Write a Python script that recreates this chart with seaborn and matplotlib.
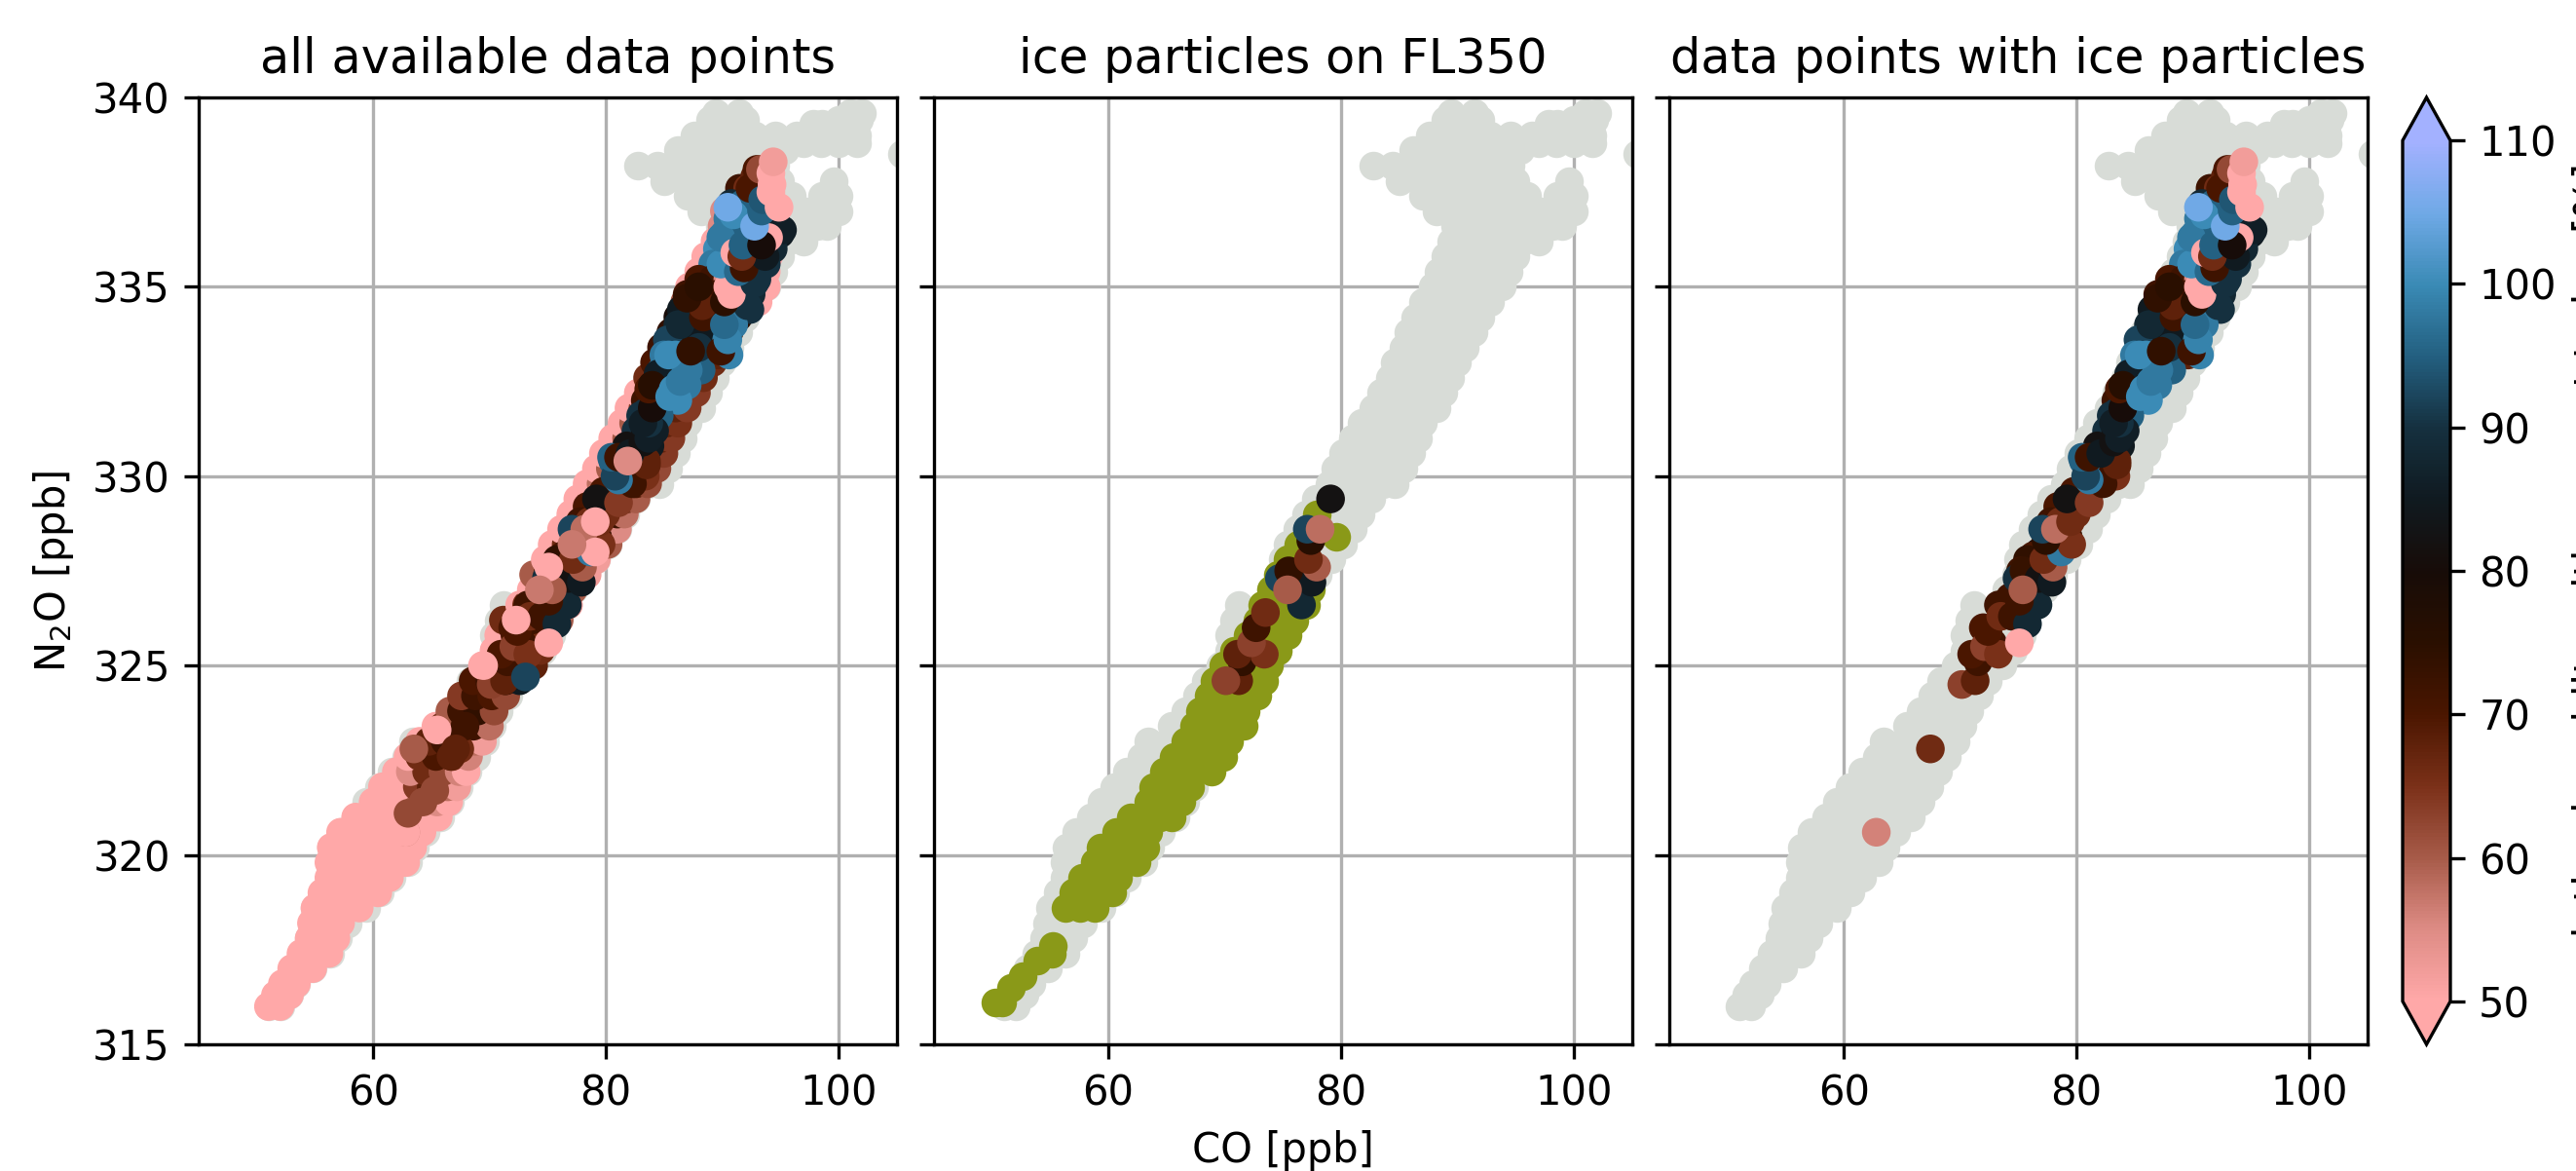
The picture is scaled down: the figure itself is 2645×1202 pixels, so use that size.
import matplotlib
matplotlib.use("Agg")
import matplotlib.pyplot as plt
from matplotlib.colors import LinearSegmentedColormap, Normalize
from matplotlib.cm import ScalarMappable
import pandas as pd
import seaborn as sns

sns.set_theme(style="ticks", rc={"axes.grid": True})
plt.rcParams.update({
    "font.family": "DejaVu Sans", "font.size": 10, "axes.titlesize": 11.85,
    "axes.labelsize": 10, "xtick.labelsize": 10, "ytick.labelsize": 10,
    "axes.edgecolor": "black", "axes.linewidth": 0.8, "grid.color": "#b0b0b0",
    "grid.linewidth": 0.8, "xtick.color": "black", "ytick.color": "black",
    "text.color": "black", "axes.labelcolor": "black",
    "xtick.direction": "out", "ytick.direction": "out",
    "xtick.major.size": 3.5, "ytick.major.size": 3.5,
    "xtick.major.width": 0.8, "ytick.major.width": 0.8,
})

panel_titles = ["all available data points", "ice particles on FL350",
                "data points with ice particles"]
x_ticks = [60, 80, 100]
y_ticks = [315, 320, 325, 330, 335, 340]
cbar_ticks = [50, 60, 70, 80, 90, 100, 110]

# every measurement: N2O row, CO values in that row
grey_rows = [
    (316.0, [51.0, 52.0]), (316.3, [51.6, 52.8]), (316.6, [52.2, 53.4]),
    (317.0, [53.0, 54.0, 54.8]), (317.4, [53.8, 55.0, 56.3]), (317.8, [54.5, 55.8, 57.0]),
    (318.2, [54.7, 56.2, 57.8]), (318.6, [55.0, 56.6, 58.2, 59.4]),
    (319.0, [55.6, 57.4, 59.2, 60.6]), (319.4, [56.2, 58.0, 59.8, 61.6]),
    (319.8, [56.2, 57.6, 59.4, 61.2, 63.0]), (320.2, [56.4, 58.2, 60.0, 62.0, 63.6]),
    (320.6, [57.2, 59.0, 61.0, 62.8, 64.5]), (321.0, [58.5, 60.2, 62.0, 64.0, 65.8]),
    (321.4, [59.4, 61.2, 63.0, 65.0, 66.6]), (321.8, [60.5, 62.2, 64.2, 66.0, 67.4]),
    (322.2, [61.6, 63.4, 65.2, 67.0, 68.1]), (322.6, [62.8, 63.5, 64.6, 66.2, 68.0, 68.9]),
    (323.0, [63.4, 65.2, 67.0, 68.8, 69.6]), (323.4, [65.4, 66.4, 68.0, 69.8, 70.2]),
    (323.8, [66.6, 67.6, 69.2, 70.8]), (324.2, [67.6, 68.8, 70.4, 71.6]),
    (324.6, [68.4, 70.0, 71.6, 72.4]), (325.0, [69.6, 71.0, 72.6, 73.6]),
    (325.4, [70.4, 72.0, 73.6, 74.6]), (325.8, [70.4, 71.6, 73.0, 74.6, 75.3]),
    (326.2, [70.8, 72.6, 74.0, 75.6]), (326.6, [71.2, 73.4, 75.0, 76.6]),
    (327.0, [74.0, 75.6, 77.2]), (327.4, [74.8, 76.4, 78.0]),
    (327.8, [75.0, 76.2, 77.8, 79.2]), (328.2, [75.4, 77.0, 78.6, 80.2]),
    (328.6, [76.2, 77.8, 79.4, 81.0]), (329.0, [77.0, 78.6, 80.2, 81.7]),
    (329.4, [77.8, 79.4, 81.0, 82.6]), (329.8, [79.0, 80.4, 82.0, 83.6, 84.6]),
    (330.2, [79.5, 81.0, 82.8, 84.4, 85.4]), (330.6, [80.2, 82.0, 83.6, 85.2, 86.0]),
    (331.0, [81.0, 82.8, 84.4, 86.0, 86.6]), (331.4, [81.8, 83.6, 85.2, 87.0]),
    (331.8, [82.8, 84.4, 86.0, 87.6, 88.2]), (332.2, [83.4, 85.2, 87.0, 88.8]),
    (332.6, [84.2, 86.0, 87.8, 89.4]), (333.0, [84.6, 86.8, 88.6, 90.0]),
    (333.4, [85.4, 87.2, 89.0, 90.6]), (333.8, [85.8, 87.8, 89.8, 91.4]),
    (334.2, [86.4, 88.4, 90.4, 92.0]), (334.6, [87.0, 89.0, 91.0, 92.8]),
    (335.0, [87.9, 89.8, 91.8, 93.8]), (335.4, [88.4, 90.4, 92.4, 94.4]),
    (335.8, [89.0, 91.0, 93.0, 95.0]), (336.2, [89.5, 91.6, 93.6, 95.6, 97.0]),
    (336.6, [89.8, 91.2, 92.8, 94.6, 96.4, 97.8, 98.2, 99.0]),
    (337.0, [88.2, 90.0, 91.8, 93.6, 95.4, 97.2, 98.6, 99.4, 100.0]),
    (337.4, [87.0, 88.8, 90.6, 92.4, 94.2, 96.0, 98.6, 99.4, 100.0]),
    (337.8, [85.0, 86.8, 88.6, 90.4, 92.2, 94.0, 95.0, 99.6]),
    (338.2, [82.8, 84.4, 86.0, 87.6, 89.4, 91.2, 93.0, 94.6]),
    (338.6, [86.2, 88.2, 90.0, 91.8, 93.6, 95.4]),
    (338.8, [97.0, 98.5, 100.0, 101.6]),
    (339.0, [87.6, 89.2, 91.0, 92.8, 94.6, 96.4, 98.0, 99.8, 101.6]),
    (339.3, [97.8, 98.6]), (339.4, [89.0, 90.2, 92.0, 100.0, 101.8]),
    (339.6, [89.5, 91.5, 101.0, 102.0]), (338.5, [105.5]),
]

# ice particles seen on FL350: N2O row, CO values in that row
olive_rows = [
    (316.1, [50.3, 50.9]), (316.5, [51.6]), (316.8, [52.6]), (317.2, [53.9]),
    (317.4, [55.1]), (317.6, [55.2]), (318.6, [56.3, 57.6, 58.8]),
    (319.0, [57.0, 58.4, 59.8, 60.3]), (319.4, [57.7, 59.0, 60.4, 60.8]),
    (319.8, [58.8, 60.2, 61.6, 62.4]), (320.2, [59.3, 60.7, 62.2, 63.2]),
    (320.6, [60.7, 62.0, 63.4]), (321.0, [61.9, 63.0, 64.4, 65.4]),
    (321.4, [63.4, 64.6, 66.0, 66.3]), (321.8, [63.8, 65.2, 66.6, 67.0]),
    (322.2, [64.8, 66.0, 67.4, 68.9]), (322.6, [65.6, 66.8, 68.2, 69.9]),
    (323.0, [66.6, 67.8, 69.2, 70.4]), (323.4, [67.4, 68.6, 70.0, 71.6]),
    (323.8, [67.9, 69.2, 70.6, 71.8]), (324.2, [68.6, 70.0, 71.4, 72.8]),
    (324.6, [69.1, 70.4, 71.8, 73.4]), (325.0, [69.9, 71.2, 72.6, 73.8]),
    (325.4, [70.8, 72.0, 73.4, 74.6]), (325.8, [72.0, 73.2, 74.4, 75.4]),
    (326.2, [72.8, 74.0, 75.4, 76.0]), (326.6, [73.2, 74.6, 75.8, 77.0]),
    (327.0, [74.0, 75.4, 76.6, 77.4]), (327.4, [74.6, 76.0, 77.0]),
    (327.8, [75.4, 76.6, 77.0]), (328.2, [76.3, 77.0]), (328.4, [79.6]), (329.0, [77.9]),
]

# humidity samples inside that FL350 leg, back to front
leg_co = [71.2, 71.5, 73.4, 71.1, 72.3, 72.7, 73.5, 76.6, 74.7, 77.5, 75.5,
          77.9, 77.2, 77.4, 77.1, 78.2, 75.4, 79.1, 70.1]
leg_n2o = [324.6, 325.1, 325.3, 325.3, 325.6, 326.0, 326.4, 326.6, 327.3, 327.2, 327.5,
           327.6, 327.8, 328.3, 328.6, 328.6, 327.0, 329.4, 324.6]
leg_rh = [68, 74, 65, 68, 63, 72, 66, 88, 92, 85, 74,
          60, 66, 76, 92, 58, 60, 82, 63]

# data points with ice particles that lie underneath: N2O row, (CO, RH) in that row
ice_under_rows = [
    (337.6, [(91.5, 72), (92.2, 66), (93.0, 72)]),
    (337.2, [(90.8, 88), (91.8, 95), (92.8, 95), (93.6, 95)]),
    (336.8, [(90.5, 98), (91.4, 100), (92.6, 98), (93.5, 92), (94.5, 85)]),
    (336.4, [(90.2, 98), (91.0, 100), (92.0, 95), (93.0, 90), (94.2, 88), (95.0, 85)]),
    (336.0, [(89.6, 100), (90.6, 98), (91.8, 85), (93.0, 72), (94.4, 88)]),
    (335.6, [(89.2, 98), (90.4, 98), (91.5, 60), (92.6, 72), (93.8, 90)]),
    (335.2, [(88.0, 70), (89.2, 72), (90.5, 55), (91.8, 72), (93.0, 90)]),
    (334.8, [(87.0, 72), (88.3, 70), (89.5, 72), (91.0, 74), (92.5, 88)]),
    (334.4, [(86.5, 85), (87.6, 72), (88.8, 74), (90.2, 90), (91.5, 96), (92.4, 90)]),
    (334.0, [(86.2, 88), (87.4, 88), (88.6, 92), (90.0, 96), (91.0, 98)]),
    (333.6, [(85.3, 92), (86.5, 92), (87.8, 85), (89.0, 85), (90.4, 99)]),
    (333.2, [(85.0, 98), (86.0, 100), (87.2, 74), (88.4, 90), (89.6, 68), (90.6, 99)]),
    (332.8, [(84.8, 98), (85.8, 98), (87.0, 98), (88.2, 95)]),
    (332.4, [(84.0, 76), (85.0, 98), (86.0, 100), (87.0, 98)]),
    (332.0, [(83.4, 72), (84.2, 70), (85.2, 100), (86.2, 100)]),
    (331.6, [(83.0, 90), (83.8, 88), (84.6, 95)]),
    (331.2, [(82.6, 90), (83.4, 82), (84.2, 86)]),
    (330.8, [(81.8, 82), (82.8, 82), (83.8, 85)]),
    (330.4, [(80.6, 95), (81.6, 86), (82.6, 85), (83.5, 68)]),
    (330.0, [(81.0, 72), (82.0, 98), (83.0, 72), (83.4, 65)]),
    (329.6, [(79.8, 70)]), (329.2, [(78.4, 70)]), (329.0, [(80.0, 66)]),
    (328.8, [(77.8, 72), (78.6, 66)]), (328.4, [(79.3, 72)]),
    (328.1, [(77.8, 72)]), (328.0, [(76.8, 80)]), (327.9, [(76.3, 70)]),
    (327.8, [(75.8, 74)]), (327.0, [(76.1, 85)]), (326.8, [(74.3, 72)]),
    (326.6, [(73.3, 72)]), (326.0, [(72.0, 70)]), (325.6, [(72.8, 72)]),
]

# data points with ice particles, back to front
ice_co = [70.15, 71.3, 71.55, 71.0, 72.1, 73.3, 72.4, 73.5, 74.5, 75.8, 76.7, 75.1,
          75.2, 74.9, 75.5, 76.8, 77.9, 78.0, 77.2, 78.7, 79.6, 77.4, 77.1, 78.2,
          79.5, 62.8, 67.45, 75.1, 75.4, 79.2,
          81.1, 82.3, 81.1, 80.8, 83.5, 80.5, 81.1, 82.1, 83.2, 83.7, 83.7, 83.5,
          83.2, 84.0, 83.7, 84.5, 84.0, 85.5, 85.8, 86.4, 87.1, 85.4, 88.0, 89.9,
          90.5, 87.3, 86.4, 88.4, 90.2, 92.2, 88.3, 90.2, 87.0, 88.0, 90.5, 90.8,
          92.8, 94.3, 95.2, 89.9, 91.4, 91.9, 89.9, 91.0, 90.5, 93.7, 91.1, 91.7,
          91.8, 94.0, 93.4, 92.8, 93.4, 93.1, 92.8, 93.0, 92.4, 93.3,
          93.5, 94.9, 94.2, 94.3, 94.2, 94.4]
ice_n2o = [324.5, 324.6, 325.1, 325.3, 325.5, 325.3, 325.9, 326.3, 326.3, 326.1, 326.6, 326.7,
           327.5, 327.3, 327.5, 327.3, 327.2, 327.6, 327.8, 328.0, 328.2, 328.3, 328.6, 328.6,
           328.8, 320.6, 322.8, 325.6, 327.0, 329.4,
           329.3, 329.8, 329.9, 330.0, 330.3, 330.5, 330.5, 330.6, 330.9, 331.0, 331.4, 331.7,
           331.4, 331.8, 332.3, 332.7, 332.4, 332.1, 332.3, 332.5, 332.8, 333.2, 333.4, 333.3,
           333.6, 333.3, 334.0, 334.2, 334.0, 334.5, 334.5, 334.6, 334.7, 335.0, 335.0, 334.8,
           335.1, 336.0, 336.5, 335.6, 335.4, 335.5, 336.3, 336.9, 337.1, 335.8, 335.9, 335.8,
           336.1, 336.3, 336.1, 336.6, 337.0, 337.3, 337.9, 338.1, 337.6, 338.1,
           337.3, 337.1, 337.5, 337.7, 338.0, 338.3]
ice_rh = [63, 68, 72, 70, 63, 65, 70, 66, 72, 88, 88, 72,
          72, 90, 73, 82, 85, 60, 66, 98, 65, 75, 92, 58,
          66, 56, 66, 50, 60, 82,
          64, 72, 98, 92, 68, 95, 72, 85, 82, 86, 90, 90,
          86, 80, 70, 86, 76, 100, 100, 98, 98, 100, 90, 72,
          99, 74, 88, 72, 96, 90, 68, 75, 74, 75, 50, 50,
          90, 88, 86, 100, 96, 72, 98, 100, 105, 85, 50, 66,
          95, 50, 80, 105, 95, 95, 68, 70, 70, 62,
          94, 50, 50, 50, 50, 52]

# remaining humidity samples: N2O row, (CO, RH) in that row
other_rows = [
    (316.0, [(51.0, 50), (52.0, 50)]), (316.3, [(51.6, 50), (52.8, 50)]),
    (316.6, [(52.2, 50), (53.4, 50)]), (317.0, [(53.0, 50), (54.0, 50), (54.8, 50)]),
    (317.4, [(53.8, 50), (55.0, 50), (56.2, 50)]), (317.8, [(54.5, 50), (55.8, 50), (56.8, 50)]),
    (318.2, [(54.7, 50), (56.0, 50), (57.2, 50)]),
    (318.6, [(55.0, 50), (56.4, 50), (57.8, 50), (58.8, 50)]),
    (319.0, [(55.6, 50), (57.4, 50), (59.0, 50), (60.4, 50)]),
    (319.4, [(56.2, 50), (58.0, 50), (59.8, 50), (61.4, 50)]),
    (319.8, [(56.2, 50), (57.6, 50), (59.4, 50), (61.2, 50), (62.8, 50)]),
    (320.2, [(56.4, 50), (58.2, 50), (60.0, 50), (62.0, 50), (63.4, 50)]),
    (320.6, [(57.2, 50), (59.0, 50), (61.0, 50), (62.8, 50), (64.2, 50)]),
    (321.0, [(58.5, 50), (60.2, 50), (62.0, 50), (64.0, 50), (65.6, 50)]),
    (321.4, [(60.0, 50), (61.4, 50), (62.6, 50), (64.0, 60), (65.5, 55), (66.5, 50)]),
    (321.8, [(60.8, 50), (62.2, 50), (63.8, 64), (65.0, 68), (66.4, 58), (67.2, 52)]),
    (322.2, [(62.0, 50), (63.2, 55), (64.6, 66), (66.0, 62), (67.4, 56), (68.0, 50)]),
    (322.6, [(63.0, 50), (64.0, 66), (65.4, 70), (66.8, 64), (68.2, 56)]),
    (323.0, [(64.0, 50), (64.8, 68), (66.2, 72), (67.6, 68), (68.8, 58), (69.4, 52)]),
    (323.4, [(65.4, 50), (66.0, 66), (67.2, 72), (68.6, 72), (70.0, 58)]),
    (323.8, [(66.6, 60), (67.6, 72), (69.0, 74), (70.4, 62)]),
    (324.2, [(67.6, 64), (68.8, 72), (70.2, 70), (71.4, 62)]),
    (324.6, [(68.6, 70), (70.0, 72), (71.4, 75), (72.6, 85)]),
    (325.0, [(69.4, 50), (70.6, 72), (72.0, 78), (73.2, 92), (73.8, 68)]),
    (325.4, [(70.4, 50), (71.6, 72), (73.0, 90), (74.4, 66)]),
    (325.8, [(70.8, 50), (72.2, 70), (73.6, 70), (75.0, 66)]),
    (326.2, [(71.2, 66), (72.3, 50), (73.6, 72), (75.0, 70), (76.0, 60)]),
    (326.6, [(72.6, 50), (73.2, 65), (74.6, 72), (75.8, 80), (76.8, 52)]),
    (327.0, [(73.6, 50), (74.6, 60), (76.0, 72), (77.2, 60)]),
    (327.4, [(73.8, 60), (75.0, 70), (76.2, 75), (77.6, 70), (78.4, 52)]),
    (327.8, [(74.8, 50), (76.0, 66), (77.2, 72), (78.6, 70), (79.2, 52)]),
    (328.2, [(75.4, 50), (76.6, 66), (77.8, 72), (79.2, 72), (80.2, 60)]),
    (328.6, [(76.2, 50), (77.4, 70), (78.8, 74), (80.4, 72), (81.0, 55)]),
    (329.0, [(77.0, 50), (78.2, 66), (79.6, 72), (81.0, 72), (81.6, 58)]),
    (329.4, [(77.6, 50), (78.8, 60), (80.2, 74), (81.8, 68), (82.6, 60)]),
    (329.8, [(78.4, 50), (79.6, 58), (81.0, 74), (82.6, 70), (83.6, 62)]),
    (330.2, [(79.2, 50), (80.4, 60), (82.0, 78), (83.6, 68), (84.4, 62)]),
    (330.6, [(79.8, 50), (81.0, 58), (82.4, 82), (84.0, 68), (85.0, 64)]),
    (331.0, [(80.6, 50), (81.8, 60), (83.2, 82), (84.8, 68), (85.6, 64)]),
    (331.4, [(81.4, 50), (82.4, 60), (83.8, 75), (85.2, 68), (86.2, 65)]),
    (331.8, [(82.0, 50), (83.2, 64), (84.6, 70), (86.0, 68), (87.0, 64)]),
    (332.2, [(82.8, 50), (84.0, 70), (85.4, 68), (86.8, 66), (87.8, 64)]),
    (332.6, [(83.6, 66), (84.8, 72), (86.2, 68), (87.6, 66), (88.4, 66)]),
    (333.0, [(84.2, 70), (85.4, 72), (86.8, 70), (88.2, 68), (89.2, 66)]),
    (333.4, [(84.8, 72), (86.0, 80), (87.4, 72), (88.8, 72), (90.0, 72)]),
    (333.8, [(85.6, 74), (86.8, 85), (88.2, 88), (89.6, 76), (90.6, 74)]),
    (334.2, [(86.2, 80), (87.6, 88), (89.0, 90), (90.4, 76), (91.4, 76)]),
    (334.6, [(86.8, 60), (88.0, 88), (89.6, 92), (91.0, 85), (92.4, 72), (93.1, 50)]),
    (335.0, [(87.2, 50), (88.6, 70), (90.0, 90), (91.6, 85), (93.2, 62), (93.8, 50)]),
    (335.4, [(88.0, 50), (89.4, 80), (91.0, 90), (92.6, 85), (93.8, 50)]),
    (335.8, [(88.6, 50), (90.0, 95), (92.0, 85), (93.4, 75), (94.0, 50)]),
    (336.2, [(89.4, 50), (91.0, 95), (92.6, 85), (94.0, 75)]),
    (336.6, [(90.0, 55), (92.0, 85), (93.6, 72), (94.6, 70)]),
    (337.0, [(90.2, 55), (91.6, 90), (93.2, 85)]),
]
# samples lying on top of the others in the first panel
top_co = [62.8, 62.2, 63.0, 64.3, 66.7, 67.9, 65.5, 69.5, 72.3, 75.1, 79.1, 65.3, 67.1,
          74.3, 77.1, 79.1, 81.9, 73.1, 63.5]
top_n2o = [320.6, 320.6, 321.1, 321.4, 322.6, 323.4, 323.3, 325.0, 326.2, 327.6, 328.0, 321.7,
           322.8, 327.0, 328.2, 328.8, 330.4, 324.7, 322.8]
top_rh = [50, 50, 62, 62, 68, 72, 50, 50, 50, 50, 50, 62, 68,
          57, 57, 50, 55, 92, 60]

rh_stops = [(0.0, "#ffa8a8"), (1/12, "#dd8b84"), (2/12, "#a65a48"), (3/12, "#7a3018"),
            (4/12, "#4a1600"), (5/12, "#2a0f00"), (6/12, "#170c08"), (7/12, "#101a20"),
            (8/12, "#15303f"), (9/12, "#235f80"), (10/12, "#3a8ab5"), (11/12, "#6fa9e6"),
            (1.0, "#a3b1ff")]
rh_cmap = LinearSegmentedColormap.from_list("rh", rh_stops, N=256)
rh_norm = Normalize(50, 110)
GREY = "#d8dcd7"
OLIVE = "#8a9918"

grey = pd.DataFrame([(x, y) for y, xs in grey_rows for x in xs], columns=["co", "n2o"])
olive = pd.DataFrame([(x, y) for y, xs in olive_rows for x in xs], columns=["co", "n2o"])
other = pd.DataFrame([(x, y, v) for y, row in other_rows for x, v in row],
                     columns=["co", "n2o", "rh"])
under = pd.DataFrame([(x, y, v) for y, row in ice_under_rows for x, v in row],
                     columns=["co", "n2o", "rh"])
ice = pd.concat([under, pd.DataFrame({"co": ice_co, "n2o": ice_n2o, "rh": ice_rh})],
                ignore_index=True)
top = pd.DataFrame({"co": top_co, "n2o": top_n2o, "rh": top_rh})
leg = pd.DataFrame({"co": leg_co, "n2o": leg_n2o, "rh": leg_rh})
all_rh = pd.concat([other, ice, top], ignore_index=True)

W, H = 2645, 1202
fig = plt.figure(figsize=(W / 300, H / 300), dpi=300, facecolor="white")


def box(left, right, top_px, bottom):
    return [left / W, 1 - bottom / H, (right - left) / W, (bottom - top_px) / H]


lefts = [204, 959, 1714]
axes = [fig.add_axes(box(l, l + 716.5, 100, 1072)) for l in lefts]
cax = fig.add_axes(box(2467, 2516, 100, 1072))

scatter_kw = dict(x="co", y="n2o", hue="rh", palette=rh_cmap, hue_norm=rh_norm,
                  s=50, linewidth=0, legend=False)

for ax in axes:
    sns.scatterplot(data=grey, x="co", y="n2o", color=GREY, s=50, linewidth=0, ax=ax)
sns.scatterplot(data=all_rh, ax=axes[0], **scatter_kw)
sns.scatterplot(data=olive, x="co", y="n2o", color=OLIVE, s=50, linewidth=0, ax=axes[1])
sns.scatterplot(data=leg, ax=axes[1], **scatter_kw)
sns.scatterplot(data=ice, ax=axes[2], **scatter_kw)

for ax, title in zip(axes, panel_titles):
    ax.set_xlim(45, 105)
    ax.set_ylim(315, 340)
    ax.set_xticks(x_ticks)
    ax.set_yticks(y_ticks)
    ax.set_title(title)
    ax.set_xlabel("")
    ax.set_ylabel("")
    ax.grid(True)
    for spine in ax.spines.values():
        spine.set_visible(True)

axes[0].set_ylabel("N$_2$O [ppb]")
axes[1].set_xlabel("CO [ppb]")
axes[1].tick_params(labelleft=False)
axes[2].tick_params(labelleft=False)

cbar = fig.colorbar(ScalarMappable(norm=rh_norm, cmap=rh_cmap), cax=cax, extend="both",
                    ticks=cbar_ticks)
cbar.set_label("relative humidity with respect to ice [%]")

fig.savefig("out.png", dpi=300, facecolor="white")
